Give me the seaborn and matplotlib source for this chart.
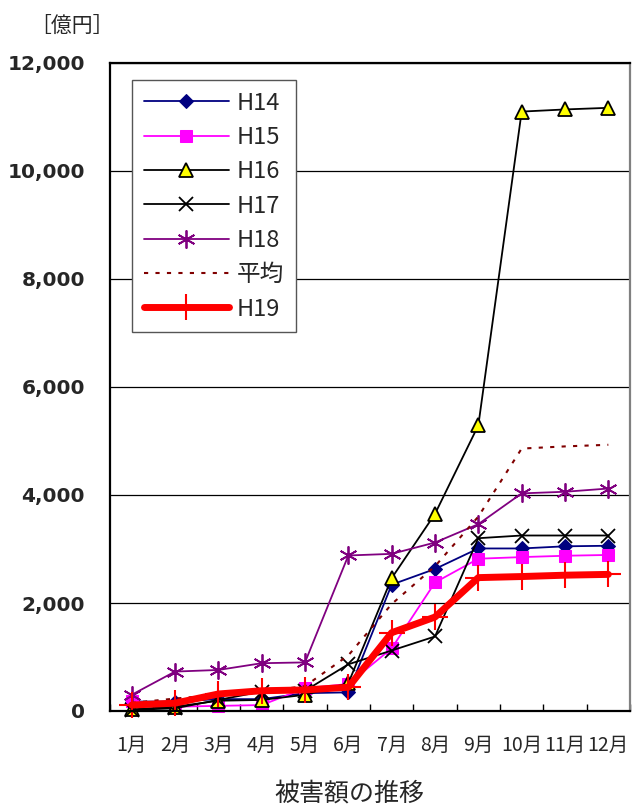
"""被害額の推移 (H14〜H19) の折れ線グラフを再現する。"""
import matplotlib.pyplot as plt
import numpy as np
import seaborn as sns
from matplotlib.ticker import FixedLocator, FuncFormatter

MONTHS = ["1月", "2月", "3月", "4月", "5月", "6月",
          "7月", "8月", "9月", "10月", "11月", "12月"]

H14 = [175, 175, 220, 220, 330, 345, 2340, 2630, 3010, 3010, 3050, 3060]
H15 = [185, 80, 95, 110, 420, 500, 1160, 2380, 2820, 2850, 2875, 2890]
H16 = [30, 80, 190, 205, 300, 515, 2460, 3650, 5290, 11100, 11140, 11170]
H17 = [20, 50, 205, 360, 375, 865, 1120, 1380, 3200, 3250, 3250, 3250]
H18 = [300, 730, 760, 885, 900, 2880, 2910, 3120, 3460, 4030, 4060, 4120]
AVG = [150, 230, 300, 360, 460, 1030, 1980, 2680, 3600, 4860, 4900, 4930]
H19 = [110, 145, 315, 375, 390, 440, 1450, 1740, 2470, 2490, 2515, 2530]

YTICKS = [0, 2000, 4000, 6000, 8000, 10000, 12000]

sns.set_style("white")
plt.rcParams["font.family"] = ["Noto Sans CJK JP", "DejaVu Sans"]

fig = plt.figure(figsize=(6.33, 8.07), dpi=100)
ax = fig.add_axes([110 / 633, 1 - 711 / 807, 520 / 633, 648 / 807])

x = np.arange(len(MONTHS))

ax.yaxis.grid(True, color="black", linewidth=0.9)
ax.set_axisbelow(True)

series = [
    ("H14", H14, dict(color="#000080", marker="D", markersize=7,
                      markerfacecolor="#000080", markeredgecolor="#000080", linewidth=1.3)),
    ("H15", H15, dict(color="#FF00FF", marker="s", markersize=8,
                      markerfacecolor="#FF00FF", markeredgecolor="#FF00FF", linewidth=1.3)),
    ("H16", H16, dict(color="black", marker="^", markersize=10,
                      markerfacecolor="#FFFF00", markeredgecolor="black",
                      markeredgewidth=1.3, linewidth=1.3)),
    ("H17", H17, dict(color="black", marker="x", markersize=10,
                      markeredgecolor="black", markeredgewidth=1.3, linewidth=1.3)),
    ("H18", H18, dict(color="#800080", marker=(6, 2, 0), markersize=13,
                      markeredgecolor="#800080", markeredgewidth=1.3, linewidth=1.3)),
    ("平均", AVG, dict(color="#800000", linestyle=(0, (2, 3.5)), linewidth=1.5)),
    ("H19", H19, dict(color="#FF0000", marker="+", markersize=19,
                      markeredgecolor="#FF0000", markeredgewidth=1.5, linewidth=5)),
]

for name, vals, style in series:
    sns.lineplot(x=x, y=vals, ax=ax, label=name, clip_on=False, **style)

ax.set_xlim(-0.5, 11.5)
ax.set_ylim(0, 12000)
ax.set_xticks(x)
ax.set_xticklabels(MONTHS, fontsize=14)
ax.xaxis.set_minor_locator(FixedLocator(np.arange(-0.5, 12, 1)))
ax.tick_params(axis="x", which="major", length=0, pad=17)
ax.tick_params(axis="x", which="minor", direction="in", length=5,
               width=1, color="black", bottom=True)
ax.set_yticks(YTICKS)
ax.yaxis.set_major_formatter(FuncFormatter(lambda v, _: f"{int(v):,}"))
ax.tick_params(axis="y", length=0, pad=18)
for lab in ax.get_yticklabels():
    lab.set_fontweight("bold")
    lab.set_fontsize(14.5)
    lab.set_family("DejaVu Sans")
ax.set_xlabel("")
ax.set_ylabel("")

for side in ["left", "bottom", "top"]:
    ax.spines[side].set_color("black")
    ax.spines[side].set_linewidth(1.6)
ax.spines["right"].set_color("#808080")
ax.spines["right"].set_linewidth(1.6)

leg = ax.legend(loc="upper left", bbox_to_anchor=(0.042, 0.974),
                borderaxespad=0, fontsize=17, handlelength=3.6,
                handletextpad=0.35, labelspacing=0.48, fancybox=False,
                framealpha=1, edgecolor="#555555", borderpad=0.5)
leg.get_frame().set_linewidth(1.0)

fig.text(72 / 633, 1 - 26 / 807, "［億円］", ha="center", va="center", fontsize=15)
fig.text(349 / 633, 1 - 794 / 807, "被害額の推移", ha="center", va="center", fontsize=18)

fig.savefig("out.png", dpi=100)
